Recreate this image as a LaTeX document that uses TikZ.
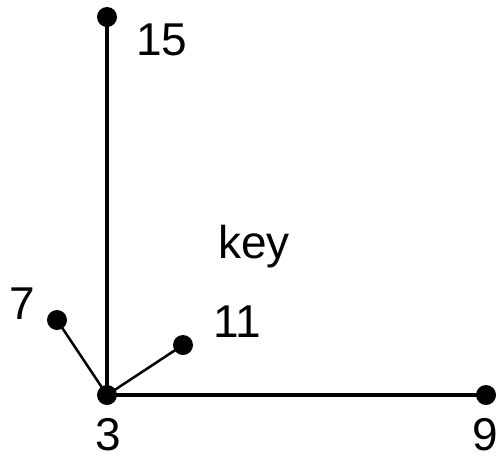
\documentclass[tikz,border=0pt]{standalone}
\usepackage{fontspec}
\setmainfont{Liberation Sans}
\begin{document}
\begin{tikzpicture}[x=1pt,y=-1pt,
  dot/.style={circle,fill=black,inner sep=0pt,minimum size=20pt},
  lbl/.style={anchor=base,inner sep=0pt,font=\fontsize{46}{50}\selectfont},
  edge/.style={draw=black,line width=3.2pt},
  thin edge/.style={draw=black,line width=2.5pt}]
\useasboundingbox (0,0) rectangle (500,459);
\node[dot] (n15) at (107,17) {};
\node[dot] (n3) at (107,395) {};
\node[dot] (n9) at (486,395) {};
\node[dot] (n7) at (57,320) {};
\node[dot] (n11) at (183,345) {};
\draw[edge] (n3.center) -- (n15.center);
\draw[edge] (n3.center) -- (n9.center);
\draw[thin edge] (n3.center) -- (n7.center);
\draw[thin edge] (n3.center) -- (n11.center);
\node[lbl] (l15) at (162,55) {15};
\node[lbl,text depth=0pt] (l3) at (108,450) {3};
\node[lbl,text depth=0pt] (l9) at (485,450) {9};
\node[lbl] (l7) at (22,319) {7};
\node[lbl] (l11) at (237,337) {11};
\node[lbl] (lkey) at (254,258) {key};
\end{tikzpicture}
\end{document}
